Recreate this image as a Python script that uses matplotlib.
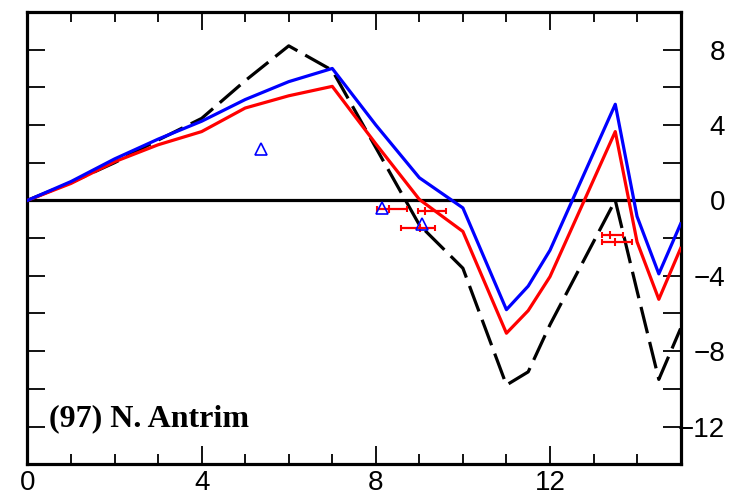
import numpy as np
import matplotlib.pyplot as plt

# ---- data ----
x_model = [0, 1, 2, 3, 4, 5, 6, 7, 8, 9, 10, 11, 11.5, 12, 13.5, 14, 14.5, 15]
blue_vals = [0, 1.0, 2.2, 3.25, 4.2, 5.35, 6.3, 7.0, 4.0, 1.2, -0.4,
             -5.8, -4.55, -2.65, 5.1, -0.85, -3.9, -1.25]
red_vals = [0, 0.9, 2.05, 2.95, 3.65, 4.9, 5.55, 6.05, 3.0, 0.05, -1.65,
            -7.05, -5.85, -4.05, 3.65, -2.2, -5.25, -2.55]
black_vals = [0, 0.95, 2.0, 3.2, 4.35, 6.35, 8.2, 6.9, 2.8, -1.3, -3.6,
              -9.8, -9.1, -6.6, 0.0, -4.8, -9.5, -6.8]

tri_x = [5.36, 8.15, 9.05]
tri_y = [2.75, -0.4, -1.25]

err_x = [8.31, 9.13, 9.01, 13.39, 13.49]
err_y = [-0.47, -0.56, -1.49, -1.84, -2.19]
err_lo = [0.29, 0.16, 0.42, 0.20, 0.30]
err_hi = [0.40, 0.48, 0.35, 0.29, 0.39]

x_ticks = [0, 4, 8, 12]
y_ticks = np.arange(-12, 10, 2)
label = "(97) N. Antrim"

# ---- figure ----
fig = plt.figure(figsize=(7.43, 4.97), dpi=100)
ax = fig.add_axes([0.037, 0.066, 0.879, 0.910])

ax.axhline(0, color='black', lw=2.3, zorder=1)
ax.plot(x_model, black_vals, color='black', lw=2.3, dashes=(8.5, 2.8), zorder=2)
ax.plot(x_model, red_vals, color='#ff0000', lw=2.3, zorder=3)
ax.plot(x_model, blue_vals, color='#0000ff', lw=2.3, zorder=4)

ax.errorbar(err_x, err_y, xerr=[err_lo, err_hi], fmt='|', color='#ff0000',
            ms=6, mew=1.5, elinewidth=1.6, capsize=2.5, capthick=1.5, zorder=5)
ax.plot(tri_x, tri_y, linestyle='none', marker='^', ms=8, mfc='none',
        mec='#0000ff', mew=1.2, zorder=6)

ax.text(0.5, -12.0, label, fontsize=23, fontweight='bold',
        family='Liberation Serif', va='baseline', ha='left')

ax.set_xlim(0, 15)
ax.set_ylim(-14, 10)

ax.set_xticks(x_ticks)
ax.set_xticks(np.arange(0, 16, 1), minor=True)
ax.set_yticks(y_ticks)
ax.set_yticklabels(['' if v % 4 else ('\u2212%d' % -v if v < 0 else '%d' % v)
                    for v in y_ticks])
ax.set_xticklabels([str(v) for v in x_ticks])

ax.tick_params(axis='both', which='both', direction='in', top=True, right=True,
               width=1.3, labelsize=20)
ax.tick_params(axis='x', which='major', length=13, pad=4)
ax.tick_params(axis='x', which='minor', length=7)
ax.tick_params(axis='y', which='major', length=13, labelleft=False,
               labelright=True, pad=32)
for lab in ax.get_yticklabels():
    lab.set_horizontalalignment('right')
for lab in ax.get_xticklabels() + ax.get_yticklabels():
    lab.set_family(['Liberation Sans Narrow', 'Liberation Sans'])

for sp in ax.spines.values():
    sp.set_linewidth(2.3)

plt.savefig('out.png', dpi=100)
